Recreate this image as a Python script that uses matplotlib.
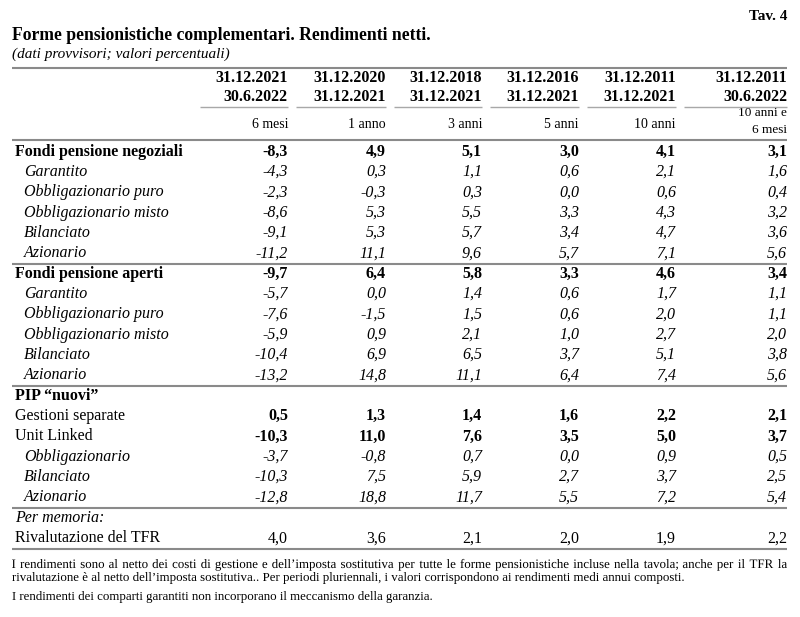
import matplotlib
matplotlib.use("Agg")
import matplotlib.pyplot as plt
from matplotlib.lines import Line2D
from matplotlib.textpath import TextPath
from matplotlib.patches import PathPatch
from matplotlib.font_manager import FontProperties
from matplotlib.transforms import Affine2D, IdentityTransform

W, H = 800, 617
FONT = "Liberation Serif"

# ---------------- data ----------------
date_start = ["31.12.2021", "31.12.2020", "31.12.2018", "31.12.2016", "31.12.2011", "31.12.2011"]
date_end = ["30.6.2022", "31.12.2021", "31.12.2021", "31.12.2021", "31.12.2021", "30.6.2022"]
periods = ["6 mesi", "1 anno", "3 anni", "5 anni", "10 anni", "10 anni e\n6 mesi"]

row_labels = ["Fondi pensione negoziali", "Garantito", "Obbligazionario puro",
              "Obbligazionario misto", "Bilanciato", "Azionario",
              "Fondi pensione aperti", "Garantito", "Obbligazionario puro",
              "Obbligazionario misto", "Bilanciato", "Azionario",
              "PIP \u201cnuovi\u201d", "Gestioni separate", "Unit Linked",
              "Obbligazionario", "Bilanciato", "Azionario",
              "Per memoria:", "Rivalutazione del TFR"]
row_kind = ["group", "sub", "sub", "sub", "sub", "sub",
            "group", "sub", "sub", "sub", "sub", "sub",
            "head", "plainbold", "plainbold", "sub", "sub", "sub",
            "memo", "plain"]

v_6m = [-8.3, -4.3, -2.3, -8.6, -9.1, -11.2, -9.7, -5.7, -7.6, -5.9, -10.4, -13.2,
        None, 0.5, -10.3, -3.7, -10.3, -12.8, None, 4.0]
v_1a = [4.9, 0.3, -0.3, 5.3, 5.3, 11.1, 6.4, 0.0, -1.5, 0.9, 6.9, 14.8,
        None, 1.3, 11.0, -0.8, 7.5, 18.8, None, 3.6]
v_3a = [5.1, 1.1, 0.3, 5.5, 5.7, 9.6, 5.8, 1.4, 1.5, 2.1, 6.5, 11.1,
        None, 1.4, 7.6, 0.7, 5.9, 11.7, None, 2.1]
v_5a = [3.0, 0.6, 0.0, 3.3, 3.4, 5.7, 3.3, 0.6, 0.6, 1.0, 3.7, 6.4,
        None, 1.6, 3.5, 0.0, 2.7, 5.5, None, 2.0]
v_10a = [4.1, 2.1, 0.6, 4.3, 4.7, 7.1, 4.6, 1.7, 2.0, 2.7, 5.1, 7.4,
         None, 2.2, 5.0, 0.9, 3.7, 7.2, None, 1.9]
v_10a6m = [3.1, 1.6, 0.4, 3.2, 3.6, 5.6, 3.4, 1.1, 1.1, 2.0, 3.8, 5.6,
           None, 2.1, 3.7, 0.5, 2.5, 5.4, None, 2.2]
columns = [v_6m, v_1a, v_3a, v_5a, v_10a, v_10a6m]

title = "Forme pensionistiche complementari. Rendimenti netti."
subtitle = "(dati provvisori; valori percentuali)"
tav = "Tav. 4"
note1 = ("I rendimenti sono al netto dei costi di gestione e dell\u2019imposta sostitutiva per tutte "
         "le forme pensionistiche incluse nella tavola; anche per il TFR la")
note2 = ("rivalutazione \u00e8 al netto dell\u2019imposta sostitutiva.. Per periodi pluriennali, "
         "i valori corrispondono ai rendimenti medi annui composti.")
note3 = "I rendimenti dei comparti garantiti non incorporano il meccanismo della garanzia."

# ---------------- layout ----------------
fig = plt.figure(figsize=(W / 100, H / 100), dpi=100)
fig.patch.set_facecolor("white")


def fx(x):
    return x / W


def fy(y):
    return 1 - y / H


def txt(x, y, s, size=11, weight="normal", style="normal", ha="left", va="center", **kw):
    return fig.text(fx(x), fy(y), s, fontsize=size, fontweight=weight, fontstyle=style,
                    ha=ha, va=va, family=FONT, color="black", **kw)


def hline(x0, x1, y, lw=1.5, color="#8a8a8a"):
    fig.add_artist(Line2D([fx(x0), fx(x1)], [fy(y), fy(y)], transform=fig.transFigure,
                          lw=lw, color=color, solid_capstyle="butt"))


LEFT, RIGHT = 12, 787
col_right = [288, 386, 482, 579, 676, 787]

txt(RIGHT, 16, tav, size=11, weight="bold", ha="right")
txt(LEFT, 35, title, size=12.7, weight="bold")
txt(LEFT, 54, subtitle, size=11, style="italic")

hline(LEFT, RIGHT, 68, lw=1.5)
for i, cr in enumerate(col_right):
    txt(cr, 78, date_start[i], size=11.5, weight="bold", ha="right")
    txt(cr, 97, date_end[i], size=11.5, weight="bold", ha="right")
    seg_left = 200 if i == 0 else col_right[i - 1] + 8
    hline(seg_left, cr, 107, lw=1.0, color="#a8a8a8")
    if "\n" in periods[i]:
        a, b = periods[i].split("\n")
        txt(cr, 113, a, size=9.5, ha="right")
        txt(cr, 130, b, size=9.5, ha="right")
    else:
        txt(cr, 124, periods[i], size=10, ha="right")
hline(LEFT, RIGHT, 140, lw=1.5)

y0, step = 151.5, 20.35
label_style = {
    "group": dict(weight="bold", style="normal", x=15),
    "sub": dict(weight="normal", style="italic", x=24),
    "head": dict(weight="bold", style="normal", x=15),
    "plainbold": dict(weight="normal", style="normal", x=15),
    "memo": dict(weight="normal", style="italic", x=15),
    "plain": dict(weight="normal", style="normal", x=15),
}
value_style = {
    "group": dict(weight="bold", style="normal"),
    "sub": dict(weight="normal", style="italic"),
    "plainbold": dict(weight="bold", style="normal"),
    "plain": dict(weight="normal", style="normal"),
}

for r, lab in enumerate(row_labels):
    y = y0 + r * step
    kind = row_kind[r]
    ls = label_style[kind]
    txt(ls["x"], y, lab, size=11.5, weight=ls["weight"], style=ls["style"])
    for c, col in enumerate(columns):
        v = col[r]
        if v is None:
            continue
        vs = value_style[kind]
        s = f"{v:.1f}".replace(".", ",")
        txt(col_right[c], y, s, size=11.5, weight=vs["weight"], style=vs["style"], ha="right")

# separators after groups
for r in (5, 11, 17, 19):
    hline(LEFT, RIGHT, y0 + r * step + 10.5, lw=1.5)

# ---------------- notes ----------------
NOTE_SIZE = 9.3
PX_PER_PT = 100 / 72
note_prop = FontProperties(family=FONT)


def justified(line, y_base, x0, x1):
    """Draw a justified line of text (word paths), baseline at y_base (pixels from top)."""
    words = line.split(" ")
    paths = [TextPath((0, 0), w, size=NOTE_SIZE, prop=note_prop) for w in words]
    exts = [p.get_extents() for p in paths]
    widths = [(e.x1 - e.x0) * PX_PER_PT for e in exts]
    gap = (x1 - x0 - sum(widths)) / (len(words) - 1)
    x = x0
    for p, e, w in zip(paths, exts, widths):
        tr = (Affine2D().translate(-e.x0, 0).scale(PX_PER_PT)
              .translate(x, H - y_base) + IdentityTransform())
        patch = PathPatch(p, transform=tr, facecolor="black", edgecolor="none", lw=0)
        fig.add_artist(patch)
        x += w + gap


justified(note1, 568, LEFT, RIGHT)
txt(LEFT, 581, note2, size=NOTE_SIZE, va="baseline")
txt(LEFT, 600, note3, size=NOTE_SIZE, va="baseline")

fig.savefig("out.png", dpi=100)
